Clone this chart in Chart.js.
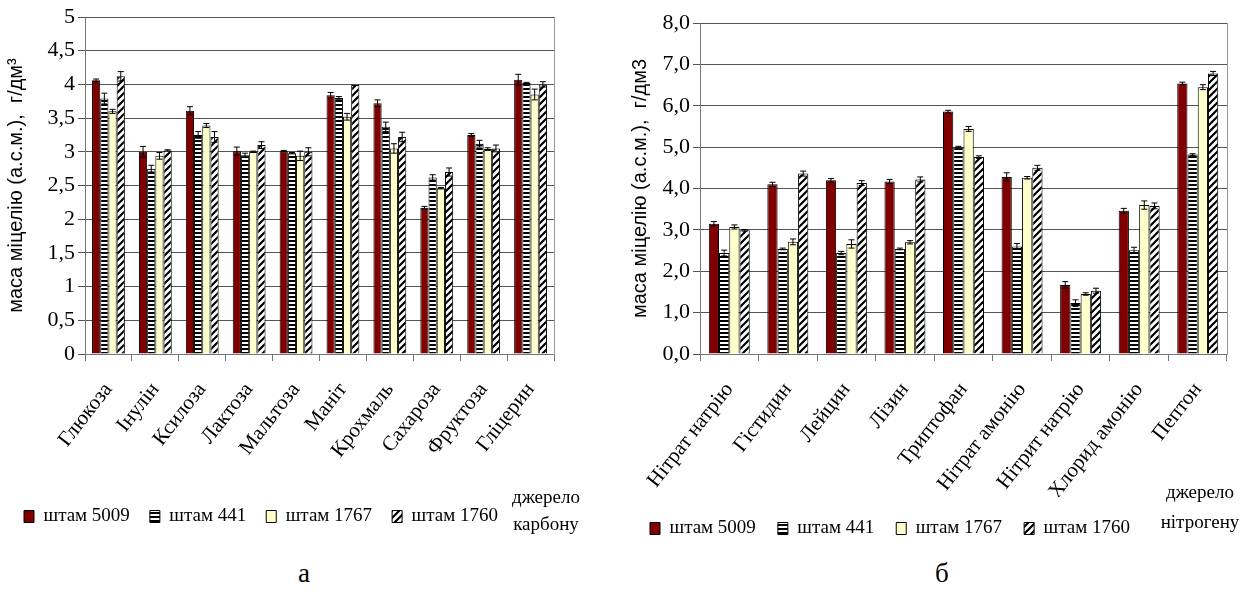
<!DOCTYPE html>
<html>
<head>
<meta charset="utf-8">
<script src="https://cdn.jsdelivr.net/npm/chart.js@4.4.1/dist/chart.umd.min.js"></script>
<style>
  body { margin: 0; background: #fff; width: 1257px; height: 596px; position: relative; overflow: hidden; }
  .box { position: absolute; }
  .note { position: absolute; font-family: "Liberation Serif", "DejaVu Serif", serif; font-size: 19px; text-align: center; color: #000; }
  .cap { position: absolute; font-family: "Liberation Serif", "DejaVu Serif", serif; font-size: 27px; color: #000; }
</style>
</head>
<body>
<div class="box" style="left:0;top:0;width:620px;height:540px"><canvas id="carbon"></canvas></div>
<div class="box" style="left:620px;top:0;width:637px;height:552px"><canvas id="nitrogen"></canvas></div>
<div class="note" style="left:505px;top:483px;width:82px;line-height:27px">джерело<br>карбону</div>
<div class="note" style="left:1152px;top:477px;width:96px;line-height:30px">джерело<br>нітрогену</div>
<div class="cap" style="left:298px;top:558px">а</div>
<div class="cap" style="left:935px;top:558px">б</div>
<script>
const strains = ['штам 5009', 'штам 441', 'штам 1767', 'штам 1760']

const carbonSources = ['Глюкоза', 'Інулін', 'Ксилоза', 'Лактоза', 'Мальтоза', 'Маніт', 'Крохмаль', 'Сахароза', 'Фруктоза', 'Гліцерин']
const carbon5009 = [4.06, 3.00, 3.61, 3.01, 3.01, 3.84, 3.72, 2.17, 3.25, 4.07]
const carbon441 = [3.79, 2.75, 3.25, 2.95, 2.98, 3.80, 3.37, 2.62, 3.12, 4.02]
const carbon1767 = [3.60, 2.94, 3.39, 3.00, 2.94, 3.52, 3.05, 2.46, 3.04, 3.85]
const carbon1760 = [4.12, 3.02, 3.22, 3.10, 3.00, 3.99, 3.22, 2.70, 3.05, 4.00]
const carbonErr5009 = [0.02, 0.08, 0.06, 0.06, 0.01, 0.04, 0.05, 0.02, 0.02, 0.08]
const carbonErr441 = [0.08, 0.05, 0.05, 0.03, 0.01, 0.02, 0.07, 0.04, 0.05, 0.01]
const carbonErr1767 = [0.03, 0.05, 0.03, 0.01, 0.07, 0.05, 0.07, 0.01, 0.02, 0.08]
const carbonErr1760 = [0.07, 0.01, 0.08, 0.05, 0.06, 0.00, 0.07, 0.06, 0.05, 0.04]
const carbonTicks = [0, 0.5, 1, 1.5, 2, 2.5, 3, 3.5, 4, 4.5, 5]

const nitrogenSources = ['Нітрат натрію', 'Гістидин', 'Лейцин', 'Лізин', 'Триптофан', 'Нітрат амонію', 'Нітрит натрію', 'Хлорид амонію', 'Пептон']
const nitrogen5009 = [3.15, 4.10, 4.20, 4.17, 5.86, 4.28, 1.67, 3.46, 6.54]
const nitrogen441 = [2.44, 2.54, 2.44, 2.54, 5.00, 2.60, 1.23, 2.51, 4.82]
const nitrogen1767 = [3.07, 2.71, 2.66, 2.70, 5.44, 4.26, 1.45, 3.60, 6.45]
const nitrogen1760 = [2.99, 4.36, 4.13, 4.22, 4.76, 4.50, 1.53, 3.58, 6.78]
const nitrogenErr5009 = [0.05, 0.05, 0.04, 0.05, 0.03, 0.10, 0.08, 0.06, 0.03]
const nitrogenErr441 = [0.07, 0.02, 0.04, 0.02, 0.02, 0.07, 0.08, 0.07, 0.02]
const nitrogenErr1767 = [0.05, 0.07, 0.10, 0.04, 0.06, 0.03, 0.03, 0.10, 0.06]
const nitrogenErr1760 = [0.02, 0.06, 0.06, 0.06, 0.03, 0.06, 0.06, 0.07, 0.05]
const nitrogenTicks = [0, 1, 2, 3, 4, 5, 6, 7, 8]

function stripes () {
  const c = document.createElement('canvas')
  c.width = 6; c.height = 4
  const g = c.getContext('2d')
  g.fillStyle = '#fff'; g.fillRect(0, 0, 6, 4)
  g.fillStyle = '#000'; g.fillRect(0, 0, 6, 2)
  return g.createPattern(c, 'repeat')
}

function hatch () {
  const c = document.createElement('canvas')
  c.width = 7; c.height = 7
  const g = c.getContext('2d')
  g.fillStyle = '#fff'; g.fillRect(0, 0, 7, 7)
  g.strokeStyle = '#000'; g.lineWidth = 2.2
  g.beginPath()
  g.moveTo(-1, 8); g.lineTo(8, -1)
  g.moveTo(-4, 4); g.lineTo(4, -4)
  g.moveTo(3, 11); g.lineTo(11, 3)
  g.stroke()
  return g.createPattern(c, 'repeat')
}

const fills = ['#800000', stripes(), '#ffffcc', hatch()]
const serif = '"Liberation Serif", "DejaVu Serif", serif'

// error bars drawn through the value scale
const errorBars = {
  id: 'errorBars',
  afterDatasetsDraw (chart) {
    const ctx = chart.ctx
    const y = chart.scales.y
    ctx.save()
    ctx.strokeStyle = '#000'
    ctx.lineWidth = 1
    chart.data.datasets.forEach((ds, i) => {
      chart.getDatasetMeta(i).data.forEach((bar, j) => {
        const v = ds.data[j], e = ds.errors[j]
        if (!e) return
        const top = y.getPixelForValue(v + e), bot = y.getPixelForValue(v - e)
        ctx.beginPath()
        ctx.moveTo(bar.x, top); ctx.lineTo(bar.x, bot)
        ctx.moveTo(bar.x - 3, top); ctx.lineTo(bar.x + 3, top)
        ctx.moveTo(bar.x - 3, bot); ctx.lineTo(bar.x + 3, bot)
        ctx.stroke()
      })
    })
    ctx.restore()
  }
}

function makeChart (id, labels, series, errs, ticks, max, fmt, yTitle, pad, yWidth, xHeight, legendPad) {
  new Chart(document.getElementById(id).getContext('2d'), {
    type: 'bar',
    data: {
      labels: labels,
      datasets: strains.map((s, i) => ({
        label: s,
        data: series[i],
        errors: errs[i],
        backgroundColor: fills[i],
        borderColor: '#000',
        borderWidth: 1,
        categoryPercentage: 0.7,
        barPercentage: 1
      }))
    },
    plugins: [errorBars],
    options: {
      responsive: true,
      maintainAspectRatio: false,
      animation: false,
      layout: { padding: pad },
      plugins: {
        tooltip: { enabled: false },
        legend: {
          position: 'bottom',
          align: 'start',
          labels: {
            boxWidth: 10,
            boxHeight: 12,
            padding: legendPad,
            color: '#000',
            font: { family: serif, size: 19 }
          }
        }
      },
      scales: {
        x: {
          afterFit: axis => { axis.height = xHeight },
          grid: { display: true, drawOnChartArea: false, tickLength: 7, color: '#777', offset: true },
          border: { color: '#777' },
          ticks: { color: '#000', font: { family: serif, size: 21 }, minRotation: 52, maxRotation: 52, autoSkip: false, padding: 17 }
        },
        y: {
          min: 0,
          max: max,
          afterFit: axis => { axis.width = yWidth },
          afterBuildTicks: axis => { axis.ticks = ticks.map(v => ({ value: v })) },
          grid: { color: '#555', tickLength: 7 },
          border: { color: '#777' },
          ticks: { color: '#000', font: { family: serif, size: 22 }, padding: 3, callback: fmt },
          title: { display: true, text: yTitle, color: '#000', font: { family: '"Liberation Sans", Arial, sans-serif', size: 20 }, padding: { top: 0, bottom: 0 } }
        },
        y2: {
          position: 'right',
          min: 0,
          max: max,
          grid: { drawOnChartArea: false, drawTicks: false },
          border: { color: '#999' },
          ticks: { display: false }
        }
      }
    }
  })
}

makeChart('carbon', carbonSources,
  [carbon5009, carbon441, carbon1767, carbon1760],
  [carbonErr5009, carbonErr441, carbonErr1767, carbonErr1760],
  carbonTicks, 5, v => String(v).replace('.', ','),
  'маса міцелію (а.с.м.),  г/дм³', { left: 4, top: 17, right: 66, bottom: 4 }, 81, 133, 20)

makeChart('nitrogen', nitrogenSources,
  [nitrogen5009, nitrogen441, nitrogen1767, nitrogen1760],
  [nitrogenErr5009, nitrogenErr441, nitrogenErr1767, nitrogenErr1760],
  nitrogenTicks, 8, v => v.toFixed(1).replace('.', ','),
  'маса міцелію (а.с.м.),  г/дм3', { left: 8, top: 23, right: 30, bottom: 4 }, 72, 143, 22)
</script>
</body>
</html>
